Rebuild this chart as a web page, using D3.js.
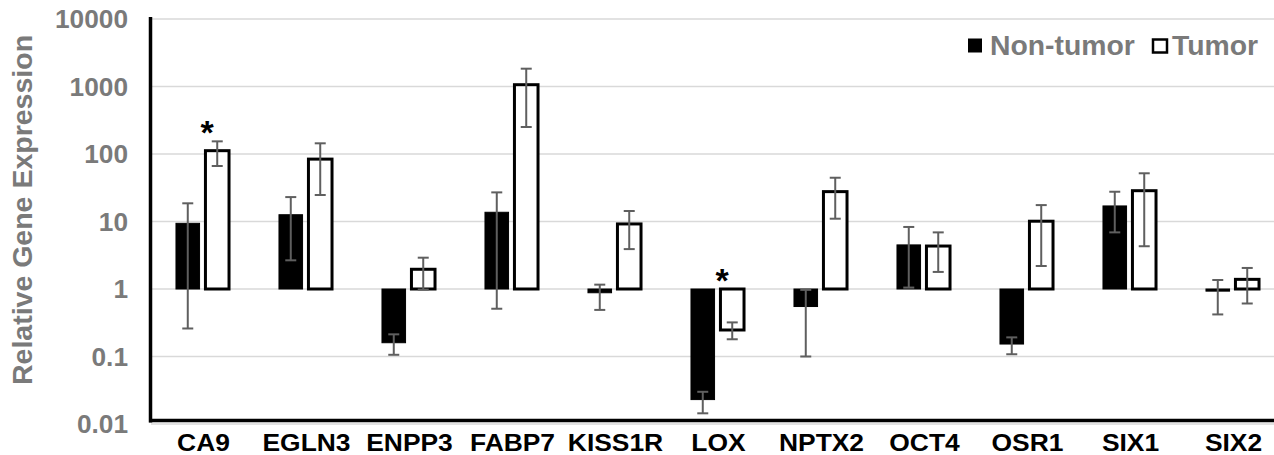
<!DOCTYPE html>
<html>
<head>
<meta charset="utf-8">
<script src="https://cdn.jsdelivr.net/npm/d3@7"></script>
<style>
  body { margin: 0; background: #fff; }
  text { font-family: "Liberation Sans", Arial, sans-serif; font-weight: bold; }
</style>
</head>
<body>
<svg id="chart" width="1274" height="455"></svg>
<script>
// gene expression
var genes = ["CA9", "EGLN3", "ENPP3", "FABP7", "KISS1R", "LOX", "NPTX2", "OCT4", "OSR1", "SIX1", "SIX2"];
var nonTumor   = [9.4, 12.6, 0.16, 13.7, 0.88, 0.023, 0.55, 4.5, 0.153, 17, 0.93];
var nonTumorLo = [0.26, 2.66, 0.106, 0.51, 0.49, 0.0144, 0.10, 1.05, 0.108, 6.9, 0.42];
var nonTumorHi = [18.6, 23, 0.213, 27, 1.16, 0.030, 0.97, 8.3, 0.192, 27.6, 1.36];
var tumor   = [112, 84, 1.96, 1063, 9.2, 0.247, 27.7, 4.33, 10.1, 28.6, 1.39];
var tumorLo = [66.4, 24.7, 0.98, 251, 3.9, 0.18, 11, 1.79, 2.19, 4.3, 0.61];
var tumorHi = [154, 144, 2.91, 1836, 14.3, 0.32, 44.5, 6.9, 17.5, 51.8, 2.05];
var series = ["Non-tumor", "Tumor"];
var starred = ["CA9", "LOX"];
var yTicks = [0.01, 0.1, 1, 10, 100, 1000, 10000];

var svg = d3.select('#chart');
var width = 1274;
var gray = "#7a7a7a";

var x0 = d3.scaleBand()
  .domain(genes)
  .range([151, 1284])
  .paddingInner(0.485)
  .paddingOuter(0.2425);

var x1 = d3.scaleBand()
  .domain(series)
  .range([0, x0.bandwidth()])
  .paddingInner(0.2);

var y = d3.scaleLog()
  .domain([0.01, 10000])
  .range([424, 19]);

// the original text is a little wider than Liberation Sans
var wide = function (x, y, sx) {
  return 'translate(' + x + ',' + y + ') scale(' + sx + ',1)';
};

// gridlines
svg.append('g').selectAll('line')
  .data(yTicks)
  .enter()
  .append('line')
  .attr('x1', 151).attr('x2', width)
  .attr('y1', function (d) { return y(d); })
  .attr('y2', function (d) { return y(d); })
  .attr('stroke', '#d9d9d9')
  .attr('stroke-width', 1.5);

// y tick labels
svg.append('g').selectAll('text')
  .data(yTicks)
  .enter()
  .append('text')
  .attr('transform', function (d) { return wide(128, y(d), 1.05); })
  .attr('dy', '0.36em')
  .attr('text-anchor', 'end')
  .attr('font-size', 25)
  .attr('fill', gray)
  .text(function (d) { return String(d); });

// y title
svg.append('text')
  .attr('transform', 'translate(32,210) rotate(-90)')
  .attr('text-anchor', 'middle')
  .attr('font-size', 28.5)
  .attr('fill', gray)
  .text('Relative Gene Expression');

// build rows for bars
var rows = [];
genes.forEach(function (g, i) {
  rows.push({gene: g, s: "Non-tumor", v: nonTumor[i], lo: nonTumorLo[i], hi: nonTumorHi[i]});
  rows.push({gene: g, s: "Tumor", v: tumor[i], lo: tumorLo[i], hi: tumorHi[i]});
});

var barX = function (d) { return x0(d.gene) + x1(d.s); };
var bw = x1.bandwidth();

svg.append('g').selectAll('rect')
  .data(rows)
  .enter()
  .append('rect')
  .attr('x', barX)
  .attr('width', bw)
  .attr('y', function (d) { return Math.min(y(d.v), y(1)); })
  .attr('height', function (d) { return Math.max(Math.abs(y(d.v) - y(1)), 1); })
  .attr('fill', function (d) { return d.s === "Tumor" ? '#fff' : '#000'; })
  .attr('stroke', '#000')
  .attr('stroke-width', function (d) { return d.s === "Tumor" ? 3 : 1; });

// error bars
var err = svg.append('g').attr('stroke', '#5f5f5f').attr('stroke-width', 2);
rows.forEach(function (d) {
  var cx = barX(d) + bw / 2;
  err.append('line')
    .attr('x1', cx).attr('x2', cx)
    .attr('y1', y(d.lo)).attr('y2', y(d.hi));
  [d.lo, d.hi].forEach(function (v) {
    err.append('line')
      .attr('x1', cx - 5.5).attr('x2', cx + 5.5)
      .attr('y1', y(v)).attr('y2', y(v));
  });
});

// significance stars
svg.append('g').selectAll('text')
  .data(rows.filter(function (d) { return d.s === "Tumor" && starred.indexOf(d.gene) >= 0; }))
  .enter()
  .append('text')
  .attr('x', function (d) { return barX(d) + bw / 2 - 10; })
  .attr('y', function (d) { return Math.min(y(d.hi), y(d.v), y(1)) + 3; })
  .attr('text-anchor', 'middle')
  .attr('font-size', 34)
  .attr('fill', '#000')
  .text('*');

// axes lines
svg.append('line')
  .attr('x1', 150.5).attr('x2', 150.5)
  .attr('y1', 17).attr('y2', 422.5)
  .attr('stroke', '#000').attr('stroke-width', 3.5);
svg.append('line')
  .attr('x1', 149).attr('x2', width)
  .attr('y1', 420.5).attr('y2', 420.5)
  .attr('stroke', '#000').attr('stroke-width', 3.5);

// x labels
svg.append('g').selectAll('text')
  .data(genes)
  .enter()
  .append('text')
  .attr('transform', function (g) { return wide(x0(g) + x0.bandwidth() / 2 + 1, 451, 1.1); })
  .attr('text-anchor', 'middle')
  .attr('font-size', 24)
  .attr('fill', '#000')
  .text(function (g) { return g; });

// legend
var legend = svg.append('g');
legend.append('rect')
  .attr('x', 968).attr('y', 38.5).attr('width', 14).attr('height', 14)
  .attr('fill', '#000');
legend.append('text')
  .attr('transform', wide(990, 54.5, 1.05))
  .attr('font-size', 27).attr('fill', gray)
  .text(series[0]);
legend.append('rect')
  .attr('x', 1153).attr('y', 39.5).attr('width', 14).attr('height', 13)
  .attr('fill', '#fff').attr('stroke', '#000').attr('stroke-width', 2.5);
legend.append('text')
  .attr('transform', wide(1172, 54.5, 1.05))
  .attr('font-size', 27).attr('fill', gray)
  .text(series[1]);
</script>
</body>
</html>
